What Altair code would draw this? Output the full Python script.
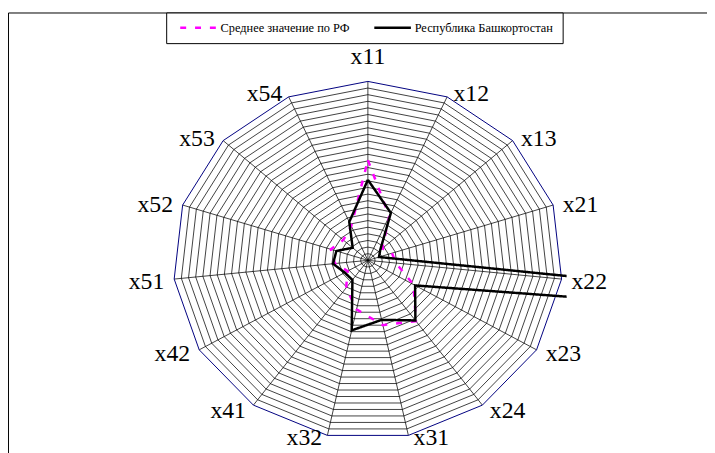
import altair as alt
import numpy as np
import pandas as pd

# ---------------- data ----------------
categories = ["x11", "x12", "x13", "x21", "x22", "x23", "x24", "x31",
              "x32", "x41", "x42", "x51", "x52", "x53", "x54"]
series_names = ["Среднее значение по РФ", "Республика Башкортостан"]
rf_values = [0.56, 0.27, 0.10, 0.13, 0.145, 0.27, 0.42, 0.37,
             0.28, 0.19, 0.12, 0.17, 0.20, 0.17, 0.21]
rb_values = [0.45, 0.29, 0.085, 0.06, 5.0, 0.28, 0.415, 0.34,
             0.40, 0.135, 0.137, 0.18, 0.17, 0.105, 0.235]
axis_max = 1.0
n_rings = 27

# ---------------- layout ----------------
W, H = 557, 441            # plot area (px)
PX_X, PX_Y = 197.0, 181.0  # px per unit radius
CX, CY = 356.0, 248.7      # centre inside plot area (px from left/top)
x_scale = alt.Scale(domain=[-CX / PX_X, (W - CX) / PX_X], zero=False, nice=False)
y_scale = alt.Scale(domain=[-(H - CY) / PX_Y, CY / PX_Y], zero=False, nice=False)

n = len(categories)
ang = np.arange(n) * 2 * np.pi / n

# series table (closed polygons)
rows = []
for s, vals in zip(series_names, [rf_values, rb_values]):
    for k in range(n + 1):
        i = k % n
        r = vals[i] / axis_max
        rows.append(dict(series=s, order=k, cat=categories[i],
                         x=r * np.sin(ang[i]), y=r * np.cos(ang[i])))
series_df = pd.DataFrame(rows)

# grid rings
ring_rows = []
for j in range(1, n_rings + 1):
    r = j / n_rings
    for k in range(n + 1):
        i = k % n
        ring_rows.append(dict(ring=j, k=k, x=r * np.sin(ang[i]), y=r * np.cos(ang[i])))
ring_df = pd.DataFrame(ring_rows)
inner_df = ring_df[ring_df.ring < n_rings]
outer_df = ring_df[ring_df.ring == n_rings]

spoke_df = pd.DataFrame(dict(x0=np.zeros(n), y0=np.zeros(n),
                             x1=np.sin(ang), y1=np.cos(ang)))

# labels
s_, c_ = np.sin(ang), np.cos(ang)
offx = 4 + 6 * np.abs(s_)
offy = 9 - 5.5 * c_ - 5 * (c_ < -0.9)
lab = pd.DataFrame(dict(cat=categories,
                        x=s_ + np.sign(np.round(s_, 6)) * offx / PX_X,
                        y=c_ - offy / PX_Y))
lab.loc[0, "y"] = 1 + 17.7 / PX_Y
lab_top = lab.iloc[[0]]
lab_right = lab[np.round(s_, 6) > 0]
lab_left = lab[np.round(s_, 6) < 0]

X = lambda f: alt.X(f, scale=x_scale, axis=None)
Y = lambda f: alt.Y(f, scale=y_scale, axis=None)

border = alt.Chart(pd.DataFrame({"a": [0]})).mark_rect(
    filled=False, stroke="black", strokeWidth=1).encode(
    x=alt.value(-7.5), x2=alt.value(800), y=alt.value(-1.5), y2=alt.value(700))

rings = alt.Chart(inner_df).mark_line(stroke="black", strokeWidth=0.75).encode(
    x=X("x:Q"), y=Y("y:Q"), detail="ring:N", order="k:Q")
outer = alt.Chart(outer_df).mark_line(stroke="#000080", strokeWidth=1).encode(
    x=X("x:Q"), y=Y("y:Q"), order="k:Q")
spokes = alt.Chart(spoke_df).mark_rule(stroke="black", strokeWidth=0.75).encode(
    x=X("x0:Q"), y=Y("y0:Q"), x2="x1:Q", y2="y1:Q")

leg = alt.Legend(title=None, orient="none", legendX=152, legendY=-2,
                 direction="horizontal")
lines = alt.Chart(series_df).mark_line(strokeWidth=2.5, clip=True).encode(
    x=X("x:Q"), y=Y("y:Q"),
    color=alt.Color("series:N", scale=alt.Scale(domain=series_names,
                                                range=["#FF00FF", "#000000"]),
                    legend=leg),
    strokeDash=alt.StrokeDash("series:N", scale=alt.Scale(domain=series_names,
                                                          range=[[6, 9], [1, 0]]),
                              legend=leg),
    order="order:Q")

tfont = dict(font="Liberation Serif", fontSize=24, color="black", baseline="alphabetic")
t_top = alt.Chart(lab_top).mark_text(align="center", **tfont).encode(
    x=X("x:Q"), y=Y("y:Q"), text="cat:N")
t_right = alt.Chart(lab_right).mark_text(align="left", **tfont).encode(
    x=X("x:Q"), y=Y("y:Q"), text="cat:N")
t_left = alt.Chart(lab_left).mark_text(align="right", **tfont).encode(
    x=X("x:Q"), y=Y("y:Q"), text="cat:N")

chart = alt.layer(border, rings, spokes, outer, lines, t_top, t_right, t_left).properties(
    width=W, height=H,
    padding={"left": 8, "top": 4, "right": 142, "bottom": 0},
    autosize=alt.AutoSizeParams(type="none"),
    background="white",
).configure_view(strokeWidth=0).configure_legend(
    strokeColor="black", fillColor="white", padding=9, cornerRadius=0,
    symbolType="M-3.7,0L3.7,0", symbolSize=100, symbolStrokeWidth=2.5,
    symbolOffset=17.2, labelOffset=15.8, columnPadding=19.3,
    labelFont="Liberation Serif", labelFontSize=12.5, labelColor="black",
    labelLimit=400,
)

chart.save("out.html", embed_options={"renderer": "svg", "actions": False})
